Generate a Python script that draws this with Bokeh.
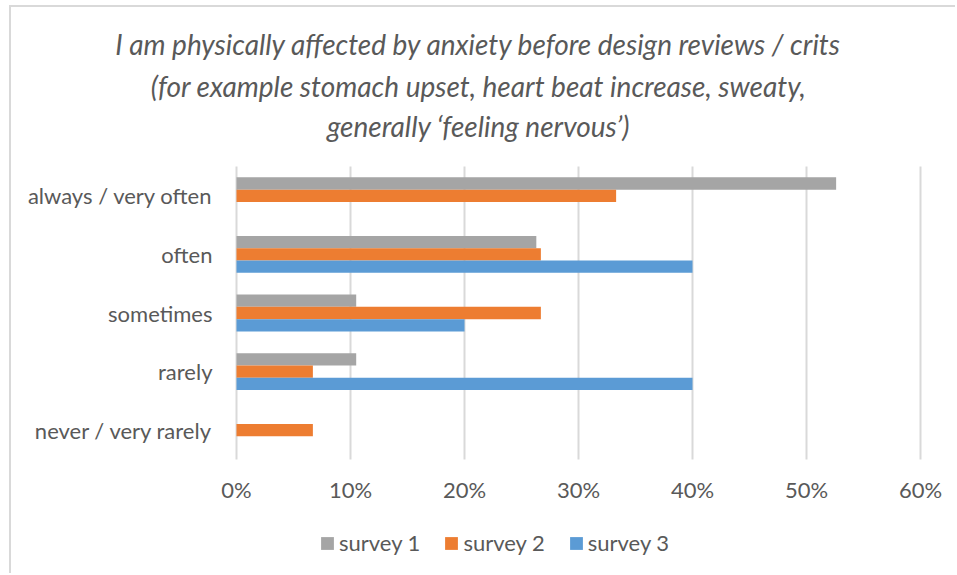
from bokeh.plotting import figure
from bokeh.models import Range1d, Legend, LegendItem, ColumnDataSource
from bokeh.core.properties import value
from bokeh.embed import file_html
from bokeh.resources import INLINE

categories = ["never / very rarely", "rarely", "sometimes", "often", "always / very often"]
survey1 = [0.0, 0.105, 0.105, 0.263, 0.526]
survey2 = [0.067, 0.067, 0.267, 0.267, 0.333]
survey3 = [0.0, 0.40, 0.20, 0.40, 0.0]
series_names = ["survey 1", "survey 2", "survey 3"]
colors = ["#A5A5A5", "#ED7D31", "#5B9BD5"]
x_ticks = [0, 0.1, 0.2, 0.3, 0.4, 0.5, 0.6]
x_tick_labels = ["0%", "10%", "20%", "30%", "40%", "50%", "60%"]
title_lines = [
    "I am physically affected by anxiety before design reviews / crits",
    "(for example stomach upset, heart beat increase, sweaty,",
    "generally \u2018feeling nervous\u2019)",
]

FONT = "Lato"
TXT = "#595959"
GRID = "#D9D9D9"
W, H = 946, 568          # canvas, placed at page (11, 7) by the CSS margins
OX, OY = 11, 7
PX0, PX_PER = 236, 1140.0   # page x of 0 %, pixels per unit (100 %)
PY0, PY_PER = 459, 58.6     # page y of plot bottom, pixels per category


def vx(page_x):
    return (page_x - PX0) / PX_PER


def uy(page_y):
    return (PY0 - page_y) / PY_PER


p = figure(width=W, height=H, output_backend="svg", toolbar_location=None,
           x_range=Range1d(vx(OX), vx(OX + W)), y_range=Range1d(uy(OY + H), uy(OY)),
           x_axis_location=None, y_axis_location=None, title_location=None,
           min_border=0, min_border_left=0, min_border_right=0,
           min_border_top=0, min_border_bottom=0)
p.styles = {"border-top": "2px solid #D9D9D9", "border-left": "2px solid #D9D9D9",
            "margin-left": "9px", "margin-top": "5px"}
p.outline_line_color = None
p.xgrid.visible = False
p.ygrid.visible = False

n = len(categories)
# vertical grid lines at the ticks
p.segment(x0=x_ticks, x1=x_ticks, y0=[0] * len(x_ticks), y1=[n] * len(x_ticks),
          line_color=GRID, line_width=2)

# bars
bh = 0.21
offsets = [bh, 0.0, -bh]
rends = []
for vals, col, off in zip([survey1, survey2, survey3], colors, offsets):
    src = ColumnDataSource(dict(y=[i + 0.5 + off for i in range(n)], right=vals))
    r = p.hbar(y="y", right="right", left=0, height=bh, source=src,
               fill_color=col, line_color=None)
    rends.append(r)

# x tick labels
p.text(x=x_ticks, y=[uy(489)] * len(x_ticks), text=x_tick_labels,
       text_align="center", text_baseline="middle", text_font=value(FONT),
       text_font_size="22px", text_color=TXT)

# category labels
p.text(x=[vx(212)] * n, y=[i + 0.5 for i in range(n)], text=categories,
       text_align="right", text_baseline="middle", text_font=value(FONT),
       text_font_size="22px", text_color=TXT)

# title
p.text(x=[vx(478)] * 3, y=[uy(43), uy(85), uy(125)], text=title_lines,
       text_align="center", text_baseline="middle", text_font=value(FONT),
       text_font_style="italic", text_font_size="28px", text_color=TXT)

items = [LegendItem(label=nm, renderers=[r]) for nm, r in zip(series_names, rends)]
lg = Legend(items=items, orientation="horizontal", location=(319 - OX, (OY + H) - 556),
            padding=0, margin=0, border_line_color=None, background_fill_alpha=0,
            glyph_width=16, glyph_height=16, label_height=20, label_standoff=4, spacing=23,
            label_text_font=FONT, label_text_font_size="22px", label_text_color=TXT)
p.add_layout(lg, "center")

open("out.html", "w").write(file_html(p, INLINE))
